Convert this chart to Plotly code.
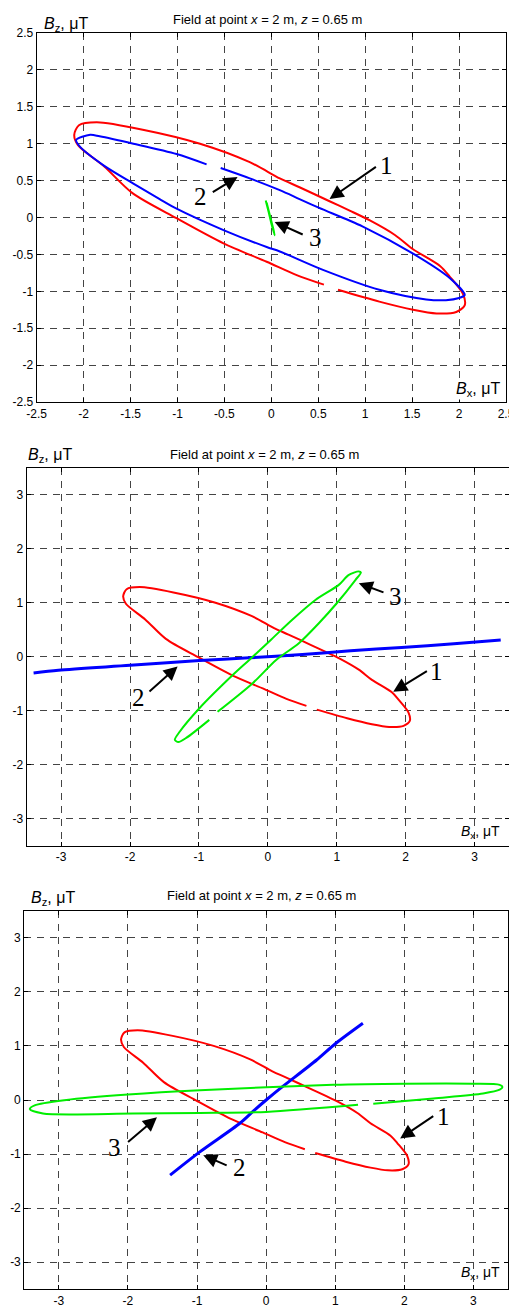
import plotly.graph_objects as go

W, H = 517, 1305
OFF = 8  # page body margin of the html page (px)

# ---------------- data (µT) ----------------
# curve 1 (red) - identical in all three panels, drawn with a small gap
c1_x = [0.71, 1.15, 1.51, 1.76, 1.97, 2.06, 2.04, 1.90, 1.80, 1.51, 1.32, 1.05, 0.84, 0.62, 0.30, 0.09,
        -0.23, -0.76, -1.37, -1.86, -2.05, -2.10, -2.06, -1.78, -1.48, -1.01, -0.51, -0.05, 0.27, 0.56]
c1_y = [-0.98, -1.14, -1.25, -1.30, -1.28, -1.19, -1.03, -0.80, -0.66, -0.43, -0.24, -0.04, 0.09, 0.22, 0.41, 0.53,
        0.75, 1.00, 1.19, 1.29, 1.25, 1.12, 0.98, 0.69, 0.33, -0.01, -0.35, -0.60, -0.78, -0.91]

# panel 1: curve 2 (blue)
p1_c2_x = [-0.54, -0.23, 0.09, 0.30, 0.51, 0.97, 1.51, 1.90, 2.06, 2.00, 1.86, 1.65, 1.15, 0.55, 0.09,
           -0.05, -0.51, -1.01, -1.19, -1.47, -1.78, -2.04, -2.08, -1.93, -1.83, -1.47, -1.01, -0.69]
p1_c2_y = [0.67, 0.53, 0.37, 0.25, 0.13, -0.12, -0.49, -0.82, -1.05, -1.09, -1.12, -1.11, -0.98, -0.71, -0.46,
           -0.40, -0.17, 0.12, 0.25, 0.46, 0.70, 0.96, 1.05, 1.12, 1.10, 1.00, 0.86, 0.72]
# panel 1: curve 3 (green)
p1_c3_x = [-0.06, -0.03, 0.00, 0.035, 0.02, -0.01, -0.05]
p1_c3_y = [0.23, 0.08, -0.08, -0.24, -0.15, 0.00, 0.20]

# panel 2: curve 2 (blue)
p2_c2_x = [-3.40, -3.04, -2.00, -0.99, -0.27, 0.50, 1.20, 1.94, 2.70, 3.38]
p2_c2_y = [-0.30, -0.25, -0.16, -0.07, -0.02, 0.04, 0.11, 0.17, 0.24, 0.31]
# panel 2: curve 3 (green)
p2_c3_x = [-0.73, -0.22, 0.12, 0.45, 0.74, 1.00, 1.27, 1.35, 1.32, 1.17, 1.03, 0.69, 0.35, 0.05,
           -0.27, -0.51, -0.99, -1.28, -1.35, -1.30, -1.18, -0.85]
p2_c3_y = [-1.02, -0.49, -0.06, 0.25, 0.62, 0.99, 1.42, 1.56, 1.58, 1.51, 1.33, 1.05, 0.68, 0.32,
           -0.06, -0.34, -0.95, -1.39, -1.54, -1.58, -1.50, -1.17]

# panel 3: curve 2 (blue)
p3_c2_x = [-1.39, -0.96, -0.38, -0.19, 0.00, 0.20, 0.73, 1.01, 1.40]
p3_c2_y = [-1.39, -0.96, -0.43, -0.21, 0.00, 0.21, 0.74, 1.05, 1.42]
# panel 3: curve 3 (green)
p3_c3_x = [1.55, 2.42, 3.14, 3.38, 3.42, 3.38, 2.99, 2.00, 0.97, -0.96, -2.00, -2.89, -3.35, -3.42,
           -3.23, -1.93, -0.96, 0.00, 1.33]
p3_c3_y = [-0.07, 0.03, 0.12, 0.19, 0.24, 0.28, 0.30, 0.30, 0.28, 0.18, 0.10, 0.00, -0.10, -0.17,
           -0.25, -0.25, -0.24, -0.22, -0.09]

# annotations: (label, tip_x, tip_y, tail_x, tail_y, text_x, text_y)
p1_arrows = [("1", 0.62, 0.25, 1.13, 0.70, 1.23, 0.71),
             ("2", -0.36, 0.55, -0.64, 0.33, -0.75, 0.29),
             ("3", 0.035, -0.06, 0.35, -0.24, 0.47, -0.27)]
p2_arrows = [("3", 1.32, 1.36, 1.70, 1.18, 1.85, 1.11),
             ("1", 1.82, -0.65, 2.33, -0.25, 2.45, -0.28),
             ("2", -1.31, -0.18, -1.74, -0.67, -1.88, -0.76)]
p3_arrows = [("1", 1.94, -0.71, 2.44, -0.28, 2.57, -0.31),
             ("2", -0.91, -1.02, -0.55, -1.22, -0.39, -1.25),
             ("3", -1.58, -0.32, -2.02, -0.80, -2.19, -0.88)]

ticks1 = [-2.5, -2, -1.5, -1, -0.5, 0, 0.5, 1, 1.5, 2, 2.5]
ticks1_lbl = ["-2.5", "-2", "-1.5", "-1", "-0.5", "0", "0.5", "1", "1.5", "2", "2.5"]
ticks23 = [-3, -2, -1, 0, 1, 2, 3]
ticks23_lbl = ["-3", "-2", "-1", "0", "1", "2", "3"]

title_text = "Field at point <i>x</i> = 2 m, <i>z</i> = 0.65 m"

RED, BLUE, GREEN = "#ff0000", "#0000ff", "#00ee00"
FONT = "Arial, Liberation Sans, sans-serif"

# ---------------- layout geometry (page pixels) ----------------
panels = [
    dict(l=36.7, r=506, t=33, b=402, rng=[-2.5, 2.5], tv=ticks1, tl=ticks1_lbl,
         title_xy=(267, 20), bz_xy=(42, 25), bx_xy=(501, 389), bzsize=16, bxsize=16),
    dict(l=26.7, r=509, t=467.7, b=845.7, rng=[-3.5, 3.5], tv=ticks23, tl=ticks23_lbl,
         title_xy=(264, 454), bz_xy=(26, 455), bx_xy=(501, 832), bzsize=16, bxsize=14),
    dict(l=24.3, r=508, t=910.7, b=1289.3, rng=[-3.5, 3.5], tv=ticks23, tl=ticks23_lbl,
         title_xy=(262, 895), bz_xy=(29, 898), bx_xy=(501, 1273), bzsize=16, bxsize=14),
]

def px(x):
    return (x - OFF) / W

def py(y):
    return 1 - (y - OFF) / H

fig = go.Figure()

def add_line(xs, ys, color, width, i):
    sfx = "" if i == 1 else str(i)
    fig.add_trace(go.Scatter(x=xs, y=ys, mode="lines",
                             line=dict(color=color, width=width, shape="spline", smoothing=0.8),
                             xaxis="x" + sfx, yaxis="y" + sfx, showlegend=False, hoverinfo="skip"))

for i in (1, 2, 3):
    add_line(c1_x, c1_y, RED, 2, i)
add_line(p1_c2_x, p1_c2_y, BLUE, 2, 1)
add_line(p1_c3_x, p1_c3_y, GREEN, 2, 1)
add_line(p2_c2_x, p2_c2_y, BLUE, 3, 2)
add_line(p2_c3_x, p2_c3_y, GREEN, 2, 2)
add_line(p3_c2_x, p3_c2_y, BLUE, 3, 3)
add_line(p3_c3_x, p3_c3_y, GREEN, 2, 3)

layout = dict(template="none", width=W, height=H, margin=dict(l=0, r=0, t=0, b=0, pad=0),
              paper_bgcolor="white", plot_bgcolor="white",
              font=dict(family=FONT, size=12, color="black"),
              showlegend=False)

annotations = []
for k, p in enumerate(panels, start=1):
    sfx = "" if k == 1 else str(k)
    axcommon = dict(range=p["rng"], tickvals=p["tv"], ticktext=p["tl"], showgrid=True,
                    gridcolor="#444444", gridwidth=1, griddash="7px,6px", zeroline=False,
                    showline=True, linecolor="black", linewidth=1.2, mirror="allticks",
                    ticks="inside", ticklen=4, tickcolor="black", automargin=False,
                    tickfont=dict(family=FONT, size=12, color="black"))
    layout["xaxis" + sfx] = dict(axcommon, domain=[px(p["l"]), px(p["r"])],
                                 anchor="y" + sfx)
    layout["yaxis" + sfx] = dict(axcommon, domain=[py(p["b"]), py(p["t"])],
                                 anchor="x" + sfx)
    tx, ty = p["title_xy"]
    annotations.append(dict(text=title_text, xref="paper", yref="paper", x=px(tx), y=py(ty),
                            xanchor="center", yanchor="middle", showarrow=False,
                            font=dict(size=13, family=FONT)))
    bx, by = p["bz_xy"]
    annotations.append(dict(text="<i>B</i><sub>z</sub>, μT", xref="paper", yref="paper",
                            x=px(bx), y=py(by), xanchor="left", yanchor="middle", showarrow=False,
                            font=dict(size=p["bzsize"], family=FONT)))
    xx, xy = p["bx_xy"]
    annotations.append(dict(text="<i>B</i><sub>x</sub>, μT", xref="paper", yref="paper",
                            x=px(xx), y=py(xy), xanchor="right", yanchor="middle", showarrow=False,
                            bgcolor="white" if k == 1 else None, borderpad=0,
                            font=dict(size=p["bxsize"], family=FONT)))

for k, arrows in enumerate([p1_arrows, p2_arrows, p3_arrows], start=1):
    sfx = "" if k == 1 else str(k)
    for lbl, tx, ty, ax, ay, lx, ly in arrows:
        annotations.append(dict(text="", x=tx, y=ty, ax=ax, ay=ay, xref="x" + sfx, yref="y" + sfx,
                                axref="x" + sfx, ayref="y" + sfx, showarrow=True,
                                arrowhead=2, arrowsize=1.4, arrowwidth=2, arrowcolor="black"))
        annotations.append(dict(text=lbl, x=lx, y=ly, xref="x" + sfx, yref="y" + sfx,
                                showarrow=False, xanchor="center", yanchor="middle",
                                font=dict(size=25, family="Liberation Serif, Times New Roman, serif",
                                          color="black")))

layout["annotations"] = annotations
fig.update_layout(**layout)
fig.write_html("out.html")
